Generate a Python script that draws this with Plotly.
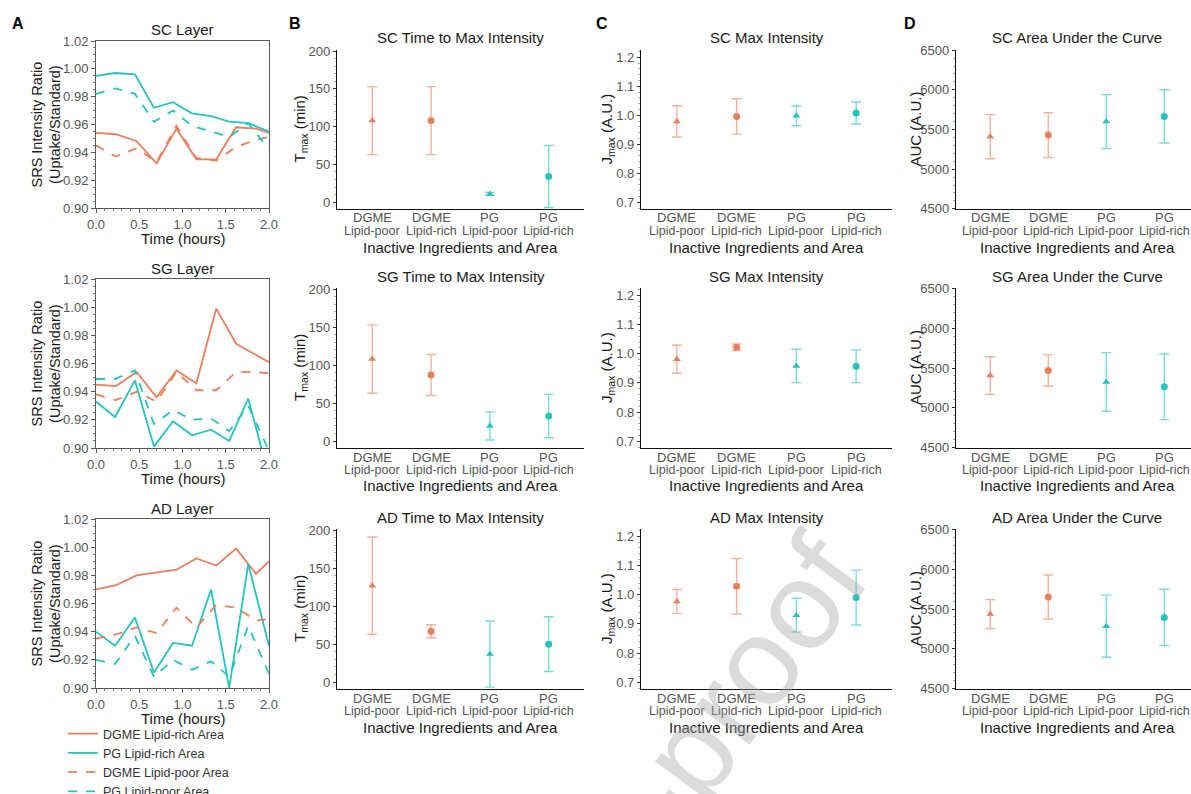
import plotly.graph_objects as go

W, H = 1191, 794
FONT = "Liberation Sans, Arial, Helvetica, sans-serif"
ORANGE = "#EA7F5E"
TEAL = "#25C3BE"
ORANGE_EB = "rgba(234,127,94,0.6)"
TEAL_EB = "rgba(37,195,190,0.6)"

# ---------------- Panel A data ----------------
layers = ["SC", "SG", "AD"]
time_dgme = [0, 0.23, 0.47, 0.70, 0.93, 1.16, 1.39, 1.62, 1.85, 2.0]
time_pg = [0, 0.22, 0.45, 0.67, 0.89, 1.11, 1.33, 1.54, 1.76, 2.0]

sc_dgme_rich = [0.954, 0.953, 0.948, 0.932, 0.957, 0.935, 0.935, 0.958, 0.957, 0.954]
sc_pg_rich = [0.995, 0.997, 0.996, 0.972, 0.976, 0.968, 0.966, 0.962, 0.961, 0.955]
sc_dgme_poor = [0.945, 0.937, 0.943, 0.933, 0.959, 0.936, 0.934, 0.944, 0.949, 0.951]
sc_pg_poor = [0.982, 0.986, 0.982, 0.962, 0.970, 0.959, 0.955, 0.951, 0.961, 0.942]

sg_dgme_rich = [0.945, 0.944, 0.954, 0.936, 0.955, 0.946, 0.999, 0.974, 0.966, 0.961]
sg_pg_rich = [0.933, 0.922, 0.948, 0.901, 0.919, 0.909, 0.913, 0.905, 0.935, 0.880]
sg_dgme_poor = [0.938, 0.934, 0.940, 0.933, 0.954, 0.941, 0.941, 0.954, 0.954, 0.953]
sg_pg_poor = [0.949, 0.949, 0.955, 0.917, 0.927, 0.920, 0.921, 0.912, 0.930, 0.898]

ad_dgme_rich = [0.970, 0.973, 0.980, 0.982, 0.984, 0.992, 0.987, 0.999, 0.981, 0.990]
ad_pg_rich = [0.940, 0.930, 0.950, 0.911, 0.932, 0.930, 0.970, 0.900, 0.988, 0.930]
ad_dgme_poor = [0.935, 0.938, 0.943, 0.939, 0.957, 0.943, 0.959, 0.957, 0.948, 0.949]
ad_pg_poor = [0.920, 0.917, 0.937, 0.908, 0.920, 0.913, 0.919, 0.908, 0.944, 0.910]

series_names = ["DGME Lipid-rich Area", "PG Lipid-rich Area",
                "DGME Lipid-poor Area", "PG Lipid-poor Area"]

# ---------------- Panels B-D data ----------------
categories = ["DGME Lipid-poor", "DGME Lipid-rich", "PG Lipid-poor", "PG Lipid-rich"]
cat_line1 = ["DGME", "DGME", "PG", "PG"]
cat_line2 = ["Lipid-poor", "Lipid-rich", "Lipid-poor", "Lipid-rich"]

sc_tmax_mean = [108, 108, 11, 34]
sc_tmax_err = [45, 45, 2, 41]
sg_tmax_mean = [108, 87, 20, 33]
sg_tmax_err = [45, 27, 18.5, 28.5]
ad_tmax_mean = [127, 67, 37, 50]
ad_tmax_err = [64, 8.5, 43.5, 36]

sc_jmax_mean = [0.979, 0.996, 0.998, 1.008]
sc_jmax_err = [0.054, 0.061, 0.034, 0.038]
sg_jmax_mean = [0.981, 1.022, 0.958, 0.957]
sg_jmax_err = [0.048, 0.011, 0.057, 0.056]
ad_jmax_mean = [0.977, 1.029, 0.930, 0.990]
ad_jmax_err = [0.041, 0.095, 0.058, 0.094]

sc_auc_mean = [5410, 5430, 5600, 5665]
sc_auc_err = [278, 282, 340, 336]
sg_auc_mean = [5405, 5470, 5325, 5265]
sg_auc_err = [235, 198, 367, 411]
ad_auc_mean = [5437, 5650, 5285, 5395]
ad_auc_err = [181, 275, 389, 353]

a_series = [
    (sc_dgme_rich, sc_pg_rich, sc_dgme_poor, sc_pg_poor),
    (sg_dgme_rich, sg_pg_rich, sg_dgme_poor, sg_pg_poor),
    (ad_dgme_rich, ad_pg_rich, ad_dgme_poor, ad_pg_poor),
]
tmax = [(sc_tmax_mean, sc_tmax_err), (sg_tmax_mean, sg_tmax_err), (ad_tmax_mean, ad_tmax_err)]
jmax = [(sc_jmax_mean, sc_jmax_err), (sg_jmax_mean, sg_jmax_err), (ad_jmax_mean, ad_jmax_err)]
auc = [(sc_auc_mean, sc_auc_err), (sg_auc_mean, sg_auc_err), (ad_auc_mean, ad_auc_err)]

# ---------------- layout geometry (pixels) ----------------
col_x = [(96, 269), (337, 584), (641, 892), (956, 1191)]
rows_a = [(41, 208), (279, 448), (519, 688)]
rows_bd = [(50, 209), (288, 448), (529, 689)]


def dx(p0, p1):
    return [p0 / W, p1 / W]


def dy(p0, p1):
    return [1 - p1 / H, 1 - p0 / H]


def axid(k):
    return "" if k == 1 else str(k)


fig = go.Figure()
layout = {}
annotations = []


def ann(text, px, py, size, color="#1a1a1a", angle=0, bold=False, xanchor="center", yanchor="middle"):
    annotations.append(dict(
        text=f"<b>{text}</b>" if bold else text, x=px / W, y=1 - py / H,
        xref="paper", yref="paper", showarrow=False, textangle=angle,
        xanchor=xanchor, yanchor=yanchor,
        font=dict(family=FONT, size=size, color=color)))


styles = [(ORANGE, "solid"), (TEAL, "solid"), (ORANGE, "dash"), (TEAL, "dash")]

for r, layer in enumerate(layers):
    # ---- Panel A ----
    k = r * 4 + 1
    xa, ya = "x" + axid(k), "y" + axid(k)
    for i, ys in enumerate(a_series[r]):
        color, dash = styles[i]
        tx = time_dgme if i in (0, 2) else time_pg
        fig.add_trace(go.Scatter(
            x=tx, y=ys, mode="lines", name=series_names[i],
            line=dict(color=color, width=1.8, dash=dash),
            legendgroup=series_names[i], showlegend=(r == 0),
            xaxis=xa, yaxis=ya))
    y0, y1 = rows_a[r]
    layout["xaxis" + axid(k)] = dict(
        domain=dx(*col_x[0]), anchor=ya, range=[0, 2], dtick=0.5, tickformat=".1f",
        showline=True, mirror=True, linecolor="#595959", linewidth=1,
        ticks="outside", ticklen=4, tickcolor="#595959", automargin=False,
        minor=dict(ticks="outside", ticklen=2, dtick=0.1, tickcolor="#777"),
        showgrid=False, zeroline=False,
        tickfont=dict(family=FONT, size=13, color="#555"))
    layout["yaxis" + axid(k)] = dict(
        domain=dy(y0, y1), anchor=xa, range=[0.90, 1.02], dtick=0.02, tickformat=".2f",
        showline=True, mirror=True, linecolor="#595959", linewidth=1,
        ticks="outside", ticklen=4, tickcolor="#595959", automargin=False,
        minor=dict(ticks="outside", ticklen=2, dtick=0.005, tickcolor="#777"),
        showgrid=False, zeroline=False,
        tickfont=dict(family=FONT, size=13, color="#555"))
    ann(f"{layer} Layer", (96 + 269) / 2, y0 - 11, 15)
    ann("Time (hours)", (96 + 269) / 2, y1 + 30, 15)
    ann("SRS Intensity Ratio<br>(Uptake/Standard)", 46, (y0 + y1) / 2, 14.5, angle=-90)

    # ---- Panels B, C, D ----
    panel_specs = [
        (tmax[r], f"{layer} Time to Max Intensity", "T<sub>max</sub> (min)",
         [-9, 201.5], 50, None, 10, 300, [-0.6, 3.6]),
        (jmax[r], f"{layer} Max Intensity", "J<sub>max</sub> (A.U.)",
         [0.677, 1.225], 0.1, ".1f", 0.02, 607, [-0.6, 3.6]),
        (auc[r], f"{layer} Area Under the Curve", "AUC (A.U.)",
         [4498, 6502], 500, None, 100, 915, [-0.59, 3.46]),
    ]
    for c, (data, title, ytitle, yr, dt, fmt, mdt, ytx, xr) in enumerate(panel_specs, start=1):
        k = r * 4 + c + 1
        xa, ya = "x" + axid(k), "y" + axid(k)
        means, errs = data
        for g, (color, ebc) in enumerate([(ORANGE, ORANGE_EB), (TEAL, TEAL_EB)]):
            sl = slice(2 * g, 2 * g + 2)
            fig.add_trace(go.Scatter(
                x=categories[sl], y=means[sl], mode="markers", showlegend=False,
                marker=dict(color=color, size=7, symbol=["triangle-up", "circle"]),
                error_y=dict(type="data", array=errs[sl], visible=True,
                             color=ebc, thickness=1.4, width=5),
                xaxis=xa, yaxis=ya, cliponaxis=False))
        y0, y1 = rows_bd[r]
        px0, px1 = col_x[c]
        layout["xaxis" + axid(k)] = dict(
            domain=dx(px0, px1), anchor=ya, type="category", range=xr,
            categoryorder="array", categoryarray=categories, showticklabels=False,
            showline=True, linecolor="#111", linewidth=1.3, ticks="", automargin=False,
            showgrid=False, zeroline=False)
        # two-line category labels
        for cat, l1, l2 in zip(categories, cat_line1, cat_line2):
            for txt, off, fs in ((l1, 9, 13), (l2, 22, 12.5)):
                annotations.append(dict(
                    text=txt, x=cat, y=1 - (y1 + off) / H, xref=xa, yref="paper",
                    showarrow=False, xanchor="center", yanchor="middle",
                    font=dict(family=FONT, size=fs, color="#555")))
        yd = dict(
            domain=dy(y0, y1), anchor=xa, range=yr, dtick=dt,
            showline=True, linecolor="#111", linewidth=1.3, automargin=False,
            ticks="outside", ticklen=3, tickcolor="#333",
            minor=dict(ticks="outside", ticklen=2, dtick=mdt, tickcolor="#aaa"),
            showgrid=False, zeroline=False,
            tickfont=dict(family=FONT, size=13, color="#555"))
        if fmt:
            yd["tickformat"] = fmt
        layout["yaxis" + axid(k)] = yd
        cx = (px0 + px1) / 2 if c < 3 else 1077
        ann(title, cx, y0 - 12, 15)
        ann("Inactive Ingredients and Area", cx, y1 + 38, 15)
        ann(ytitle, ytx, (y0 + y1) / 2, 15, angle=-90)

for letter, px in [("A", 18), ("B", 295), ("C", 602), ("D", 910)]:
    ann(letter, px, 24, 16, color="#000", bold=True)

# journal watermark
annotations.append(dict(
    text="Journal Pre-proof", x=551 / W, y=1 - 941 / H, xref="paper", yref="paper",
    showarrow=False, textangle=-53.5, xanchor="center", yanchor="middle",
    font=dict(family=FONT, size=125, color="rgba(165,165,165,0.4)")))

fig.update_layout(
    width=W, height=H, margin=dict(l=0, r=0, t=0, b=0, autoexpand=False),
    paper_bgcolor="white", plot_bgcolor="white",
    font=dict(family=FONT, size=13, color="#333"),
    annotations=annotations,
    legend=dict(x=63 / W, y=1 - 719 / H, xanchor="left", yanchor="top",
                bgcolor="rgba(0,0,0,0)", font=dict(family=FONT, size=12.5, color="#333"),
                tracegroupgap=0),
    **layout)

fig.write_html("out.html", config={"displayModeBar": False},
               post_script="document.body.style.margin='0';")
